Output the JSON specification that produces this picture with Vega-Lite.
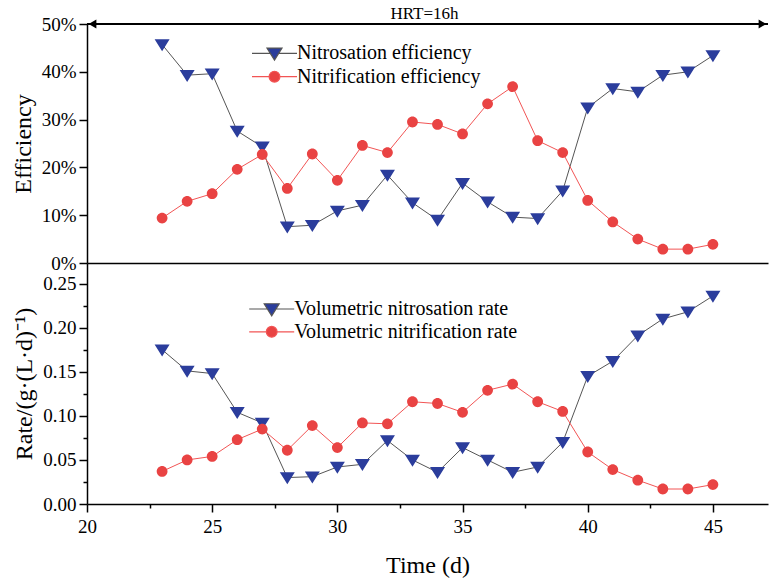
{
  "$schema": "https://vega.github.io/schema/vega-lite/v6.json",
  "background": "white",
  "padding": {"left": 11, "top": 5, "right": 0, "bottom": 5},
  "spacing": 0,
  "bounds": "flush",
  "resolve": {
    "scale": {"stroke": "independent", "fill": "independent", "shape": "independent"},
    "legend": {"stroke": "independent", "fill": "independent", "shape": "independent"}
  },
  "config": {
    "font": "Liberation Serif",
    "view": {"stroke": null},
    "axis": {
      "labelFont": "Liberation Serif", "titleFont": "Liberation Serif",
      "labelFontSize": 19, "titleFontSize": 24, "titleFontWeight": "normal",
      "labelColor": "black", "titleColor": "black", "domainColor": "black", "tickColor": "black",
      "grid": false, "domainWidth": 1.5, "tickWidth": 1.5, "labelOverlap": false, "labelFlush": false
    },
    "legend": {"labelFont": "Liberation Serif", "labelFontSize": 20, "labelColor": "black", "labelLimit": 400}
  },
  "datasets": {
    "eff": [
      {"t": 23, "s": "Nitrosation efficiency", "v": 45.7},
      {"t": 24, "s": "Nitrosation efficiency", "v": 39.3},
      {"t": 25, "s": "Nitrosation efficiency", "v": 39.6},
      {"t": 26, "s": "Nitrosation efficiency", "v": 27.6},
      {"t": 27, "s": "Nitrosation efficiency", "v": 24.3},
      {"t": 28, "s": "Nitrosation efficiency", "v": 7.6},
      {"t": 29, "s": "Nitrosation efficiency", "v": 7.9},
      {"t": 30, "s": "Nitrosation efficiency", "v": 10.9},
      {"t": 31, "s": "Nitrosation efficiency", "v": 12.1},
      {"t": 32, "s": "Nitrosation efficiency", "v": 18.4},
      {"t": 33, "s": "Nitrosation efficiency", "v": 12.6},
      {"t": 34, "s": "Nitrosation efficiency", "v": 9.0},
      {"t": 35, "s": "Nitrosation efficiency", "v": 16.7},
      {"t": 36, "s": "Nitrosation efficiency", "v": 12.8},
      {"t": 37, "s": "Nitrosation efficiency", "v": 9.6},
      {"t": 38, "s": "Nitrosation efficiency", "v": 9.3},
      {"t": 39, "s": "Nitrosation efficiency", "v": 15.1},
      {"t": 40, "s": "Nitrosation efficiency", "v": 32.5},
      {"t": 41, "s": "Nitrosation efficiency", "v": 36.5},
      {"t": 42, "s": "Nitrosation efficiency", "v": 35.8},
      {"t": 43, "s": "Nitrosation efficiency", "v": 39.3},
      {"t": 44, "s": "Nitrosation efficiency", "v": 40.0},
      {"t": 45, "s": "Nitrosation efficiency", "v": 43.4},
      {"t": 23, "s": "Nitrification efficiency", "v": 9.4},
      {"t": 24, "s": "Nitrification efficiency", "v": 12.9},
      {"t": 25, "s": "Nitrification efficiency", "v": 14.5},
      {"t": 26, "s": "Nitrification efficiency", "v": 19.6},
      {"t": 27, "s": "Nitrification efficiency", "v": 22.7},
      {"t": 28, "s": "Nitrification efficiency", "v": 15.6},
      {"t": 29, "s": "Nitrification efficiency", "v": 22.8},
      {"t": 30, "s": "Nitrification efficiency", "v": 17.3},
      {"t": 31, "s": "Nitrification efficiency", "v": 24.6},
      {"t": 32, "s": "Nitrification efficiency", "v": 23.1},
      {"t": 33, "s": "Nitrification efficiency", "v": 29.5},
      {"t": 34, "s": "Nitrification efficiency", "v": 29.0},
      {"t": 35, "s": "Nitrification efficiency", "v": 27.0},
      {"t": 36, "s": "Nitrification efficiency", "v": 33.3},
      {"t": 37, "s": "Nitrification efficiency", "v": 36.9},
      {"t": 38, "s": "Nitrification efficiency", "v": 25.6},
      {"t": 39, "s": "Nitrification efficiency", "v": 23.1},
      {"t": 40, "s": "Nitrification efficiency", "v": 13.1},
      {"t": 41, "s": "Nitrification efficiency", "v": 8.6},
      {"t": 42, "s": "Nitrification efficiency", "v": 5.0},
      {"t": 43, "s": "Nitrification efficiency", "v": 2.9},
      {"t": 44, "s": "Nitrification efficiency", "v": 2.9},
      {"t": 45, "s": "Nitrification efficiency", "v": 3.9}
    ],
    "rate": [
      {"t": 23, "s": "Volumetric nitrosation rate", "v": 0.175},
      {"t": 24, "s": "Volumetric nitrosation rate", "v": 0.151},
      {"t": 25, "s": "Volumetric nitrosation rate", "v": 0.148},
      {"t": 26, "s": "Volumetric nitrosation rate", "v": 0.104},
      {"t": 27, "s": "Volumetric nitrosation rate", "v": 0.092},
      {"t": 28, "s": "Volumetric nitrosation rate", "v": 0.030},
      {"t": 29, "s": "Volumetric nitrosation rate", "v": 0.031},
      {"t": 30, "s": "Volumetric nitrosation rate", "v": 0.042},
      {"t": 31, "s": "Volumetric nitrosation rate", "v": 0.045},
      {"t": 32, "s": "Volumetric nitrosation rate", "v": 0.072},
      {"t": 33, "s": "Volumetric nitrosation rate", "v": 0.050},
      {"t": 34, "s": "Volumetric nitrosation rate", "v": 0.036},
      {"t": 35, "s": "Volumetric nitrosation rate", "v": 0.064},
      {"t": 36, "s": "Volumetric nitrosation rate", "v": 0.050},
      {"t": 37, "s": "Volumetric nitrosation rate", "v": 0.036},
      {"t": 38, "s": "Volumetric nitrosation rate", "v": 0.042},
      {"t": 39, "s": "Volumetric nitrosation rate", "v": 0.070},
      {"t": 40, "s": "Volumetric nitrosation rate", "v": 0.145},
      {"t": 41, "s": "Volumetric nitrosation rate", "v": 0.162},
      {"t": 42, "s": "Volumetric nitrosation rate", "v": 0.191},
      {"t": 43, "s": "Volumetric nitrosation rate", "v": 0.210},
      {"t": 44, "s": "Volumetric nitrosation rate", "v": 0.218},
      {"t": 45, "s": "Volumetric nitrosation rate", "v": 0.236},
      {"t": 23, "s": "Volumetric nitrification rate", "v": 0.037},
      {"t": 24, "s": "Volumetric nitrification rate", "v": 0.050},
      {"t": 25, "s": "Volumetric nitrification rate", "v": 0.054},
      {"t": 26, "s": "Volumetric nitrification rate", "v": 0.073},
      {"t": 27, "s": "Volumetric nitrification rate", "v": 0.085},
      {"t": 28, "s": "Volumetric nitrification rate", "v": 0.061},
      {"t": 29, "s": "Volumetric nitrification rate", "v": 0.089},
      {"t": 30, "s": "Volumetric nitrification rate", "v": 0.064},
      {"t": 31, "s": "Volumetric nitrification rate", "v": 0.092},
      {"t": 32, "s": "Volumetric nitrification rate", "v": 0.091},
      {"t": 33, "s": "Volumetric nitrification rate", "v": 0.116},
      {"t": 34, "s": "Volumetric nitrification rate", "v": 0.114},
      {"t": 35, "s": "Volumetric nitrification rate", "v": 0.104},
      {"t": 36, "s": "Volumetric nitrification rate", "v": 0.129},
      {"t": 37, "s": "Volumetric nitrification rate", "v": 0.136},
      {"t": 38, "s": "Volumetric nitrification rate", "v": 0.116},
      {"t": 39, "s": "Volumetric nitrification rate", "v": 0.105},
      {"t": 40, "s": "Volumetric nitrification rate", "v": 0.059},
      {"t": 41, "s": "Volumetric nitrification rate", "v": 0.039},
      {"t": 42, "s": "Volumetric nitrification rate", "v": 0.027},
      {"t": 43, "s": "Volumetric nitrification rate", "v": 0.017},
      {"t": 44, "s": "Volumetric nitrification rate", "v": 0.017},
      {"t": 45, "s": "Volumetric nitrification rate", "v": 0.022}
    ]
  },
  "vconcat": [
    {
      "width": 681,
      "height": 239,
      "layer": [
        {
          "data": {"name": "eff"},
          "mark": {"type": "line", "strokeWidth": 1},
          "encoding": {
            "x": {"field": "t", "type": "quantitative", "scale": {"domain": [20, 47.2], "nice": false, "zero": false},
                  "axis": {"title": null, "labels": false, "ticks": false, "domain": true}},
            "y": {"field": "v", "type": "quantitative", "scale": {"domain": [0, 50], "nice": false},
                  "axis": {"title": "Efficiency", "values": [0, 5, 10, 15, 20, 25, 30, 35, 40, 45, 50],
                           "labelExpr": "datum.value % 10 === 0 ? datum.value + '%' : ''",
                           "tickSize": {"condition": {"test": "datum.value % 10 === 0", "value": 8}, "value": 4},
                           "labelPadding": 3, "titlePadding": 6}},
            "stroke": {"field": "s", "type": "nominal",
              "scale": {"domain": ["Nitrosation efficiency", "Nitrification efficiency"], "range": ["#555555", "#f25555"]},
              "legend": {"orient": "none", "legendX": 177.5, "legendY": 19.3, "title": null, "symbolSize": 225, "labelOffset": 12.5, "rowPadding": 3.4, "symbolStrokeWidth": 1.2}}
          }
        },
        {
          "data": {"name": "eff"},
          "mark": {"type": "point", "filled": true, "size": 225, "opacity": 1},
          "encoding": {
            "x": {"field": "t", "type": "quantitative"},
            "y": {"field": "v", "type": "quantitative"},
            "fill": {"field": "s", "type": "nominal",
              "scale": {"domain": ["Nitrosation efficiency", "Nitrification efficiency"], "range": ["#2b3d9c", "#e94343"]},
              "legend": {"orient": "none", "legendX": 177.5, "legendY": 19.3, "title": null, "symbolSize": 225, "labelOffset": 12.5, "rowPadding": 3.4, "symbolStrokeWidth": 1.2}},
            "shape": {"field": "s", "type": "nominal",
              "scale": {"domain": ["Nitrosation efficiency", "Nitrification efficiency"],
                        "range": ["M-3,0L-0.56,0M0.56,0L3,0M-1,-0.7L1,-0.7L0,0.9Z", "M-3,0L-0.72,0M0.72,0L3,0M-0.72,0A0.72,0.72,0,1,1,0.72,0A0.72,0.72,0,1,1,-0.72,0Z"]},
              "legend": {"orient": "none", "legendX": 177.5, "legendY": 19.3, "title": null, "symbolSize": 225, "labelOffset": 12.5, "rowPadding": 3.4, "symbolStrokeWidth": 1.2}}
          }
        },
        {
          "data": {"values": [{"x1": 20, "x2": 47.2, "y": 50}]},
          "mark": {"type": "rule", "color": "black", "strokeWidth": 2},
          "encoding": {
            "x": {"field": "x1", "type": "quantitative"},
            "x2": {"field": "x2"},
            "y": {"field": "y", "type": "quantitative"}
          }
        },
        {
          "data": {"values": [{"x": 20.22, "y": 50}]},
          "mark": {"type": "point", "shape": "triangle-left", "filled": true, "color": "black", "size": 80, "opacity": 1},
          "encoding": {
            "x": {"field": "x", "type": "quantitative"},
            "y": {"field": "y", "type": "quantitative"}
          }
        },
        {
          "data": {"values": [{"x": 46.98, "y": 50}]},
          "mark": {"type": "point", "shape": "triangle-right", "filled": true, "color": "black", "size": 80, "opacity": 1},
          "encoding": {
            "x": {"field": "x", "type": "quantitative"},
            "y": {"field": "y", "type": "quantitative"}
          }
        },
        {
          "data": {"values": [{"a": "HRT=16h", "x": 33.48, "y": 50}]},
          "mark": {"type": "text", "font": "Liberation Serif", "fontSize": 17, "color": "black", "baseline": "alphabetic", "align": "center", "dy": -5},
          "encoding": {
            "x": {"field": "x", "type": "quantitative"},
            "y": {"field": "y", "type": "quantitative"},
            "text": {"field": "a"}
          }
        }
      ]
    },
    {
      "width": 681,
      "height": 241,
      "data": {"name": "rate"},
      "encoding": {
        "x": {"field": "t", "type": "quantitative", "scale": {"domain": [20, 47.2], "nice": false, "zero": false},
              "axis": {"title": "Time (d)", "values": [20, 22.5, 25, 27.5, 30, 32.5, 35, 37.5, 40, 42.5, 45],
                       "labelExpr": "datum.value % 5 === 0 ? datum.label : ''",
                       "tickSize": {"condition": {"test": "datum.value % 5 === 0", "value": 8}, "value": 4},
                       "labelPadding": 5, "titlePadding": 17}},
        "y": {"field": "v", "type": "quantitative", "scale": {"domain": [0, 0.2734], "nice": false},
              "axis": {"title": "Rate/(g·(L·d)⁻¹)", "values": [0, 0.025, 0.05, 0.075, 0.1, 0.125, 0.15, 0.175, 0.2, 0.225, 0.25],
                       "labelExpr": "round(datum.value * 1000) % 50 === 0 ? format(datum.value, '.2f') : ''",
                       "tickSize": {"condition": {"test": "round(datum.value * 1000) % 50 === 0", "value": 8}, "value": 4},
                       "labelPadding": 3, "titlePadding": 6}}
      },
      "layer": [
        {
          "mark": {"type": "line", "strokeWidth": 1},
          "encoding": {
            "stroke": {"field": "s", "type": "nominal",
              "scale": {"domain": ["Volumetric nitrosation rate", "Volumetric nitrification rate"], "range": ["#555555", "#f25555"]},
              "legend": {"orient": "none", "legendX": 174.7, "legendY": 36, "title": null, "symbolSize": 225, "labelOffset": 12.5, "rowPadding": 2.8, "symbolStrokeWidth": 1.2}}
          }
        },
        {
          "mark": {"type": "point", "filled": true, "size": 225, "opacity": 1},
          "encoding": {
            "fill": {"field": "s", "type": "nominal",
              "scale": {"domain": ["Volumetric nitrosation rate", "Volumetric nitrification rate"], "range": ["#2b3d9c", "#e94343"]},
              "legend": {"orient": "none", "legendX": 174.7, "legendY": 36, "title": null, "symbolSize": 225, "labelOffset": 12.5, "rowPadding": 2.8, "symbolStrokeWidth": 1.2}},
            "shape": {"field": "s", "type": "nominal",
              "scale": {"domain": ["Volumetric nitrosation rate", "Volumetric nitrification rate"],
                        "range": ["M-3,0L-0.56,0M0.56,0L3,0M-1,-0.7L1,-0.7L0,0.9Z", "M-3,0L-0.72,0M0.72,0L3,0M-0.72,0A0.72,0.72,0,1,1,0.72,0A0.72,0.72,0,1,1,-0.72,0Z"]},
              "legend": {"orient": "none", "legendX": 174.7, "legendY": 36, "title": null, "symbolSize": 225, "labelOffset": 12.5, "rowPadding": 2.8, "symbolStrokeWidth": 1.2}}
          }
        }
      ]
    }
  ]
}
